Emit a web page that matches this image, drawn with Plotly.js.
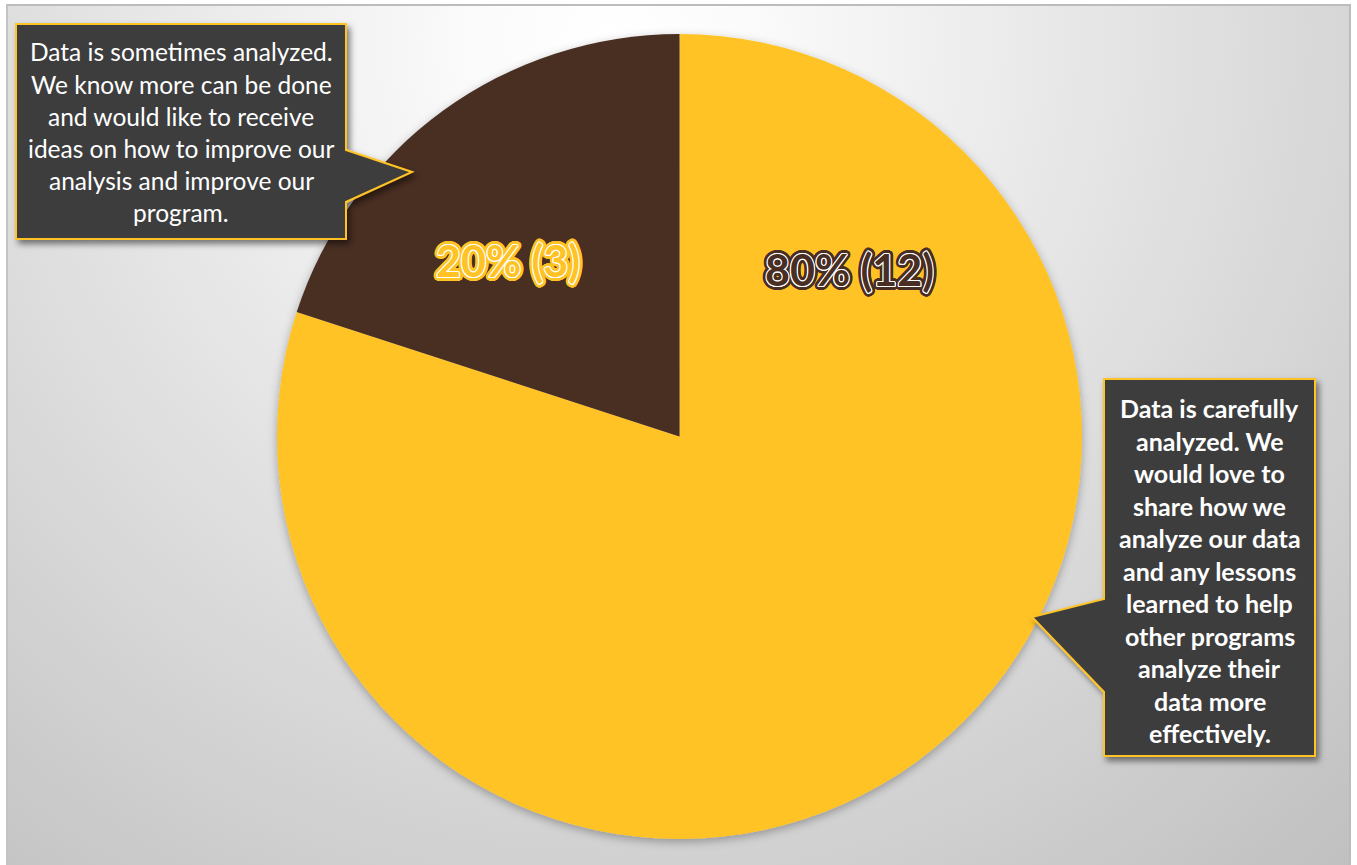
<!DOCTYPE html>
<html>
<head>
<meta charset="utf-8">
<script src="https://cdn.plot.ly/plotly-3.0.1.min.js"></script>
<style>
  html, body { margin: 0; padding: 0; background: #ffffff; }
  #frame {
    position: absolute; left: 6px; top: 4px; width: 1345px; height: 861px;
    border-top: 2px solid #bcbcbc; border-left: 2px solid #c4c4c4; border-right: 2px solid #bcbcbc;
    box-sizing: border-box;
    background: radial-gradient(circle farthest-corner at 45% 4%, #ffffff 0%, #fbfbfb 12%, #c0c0c0 100%);
  }
  #chart { position: absolute; left: 0; top: 0; width: 1357px; height: 865px; }
</style>
</head>
<body>
<div id="frame"></div>
<div id="chart"></div>
<script>
// ---- data ----
const categories = [
  'Data is carefully analyzed. We would love to share how we analyze our data and any lessons learned to help other programs analyze their data more effectively.',
  'Data is sometimes analyzed. We know more can be done and would like to receive ideas on how to improve our analysis and improve our program.'
];
const values = [12, 3];
const sliceColors = ['#FFC326', '#492E24'];
const callout1Lines = [
  'Data is sometimes analyzed.',
  'We know more can be done',
  'and would like to receive',
  'ideas on how to improve our',
  'analysis and improve our',
  'program.'
];
const callout2Lines = [
  'Data is carefully',
  'analyzed. We',
  'would love to',
  'share how we',
  'analyze our data',
  'and any lessons',
  'learned to help',
  'other programs',
  'analyze their',
  'data more',
  'effectively.'
];

// ---- layout helpers ----
const W = 1357, H = 865;
const px = x => x / W;
const py = y => 1 - y / H;
const pathOf = pts => 'M ' + pts.map(p => px(p[0]).toFixed(5) + ',' + py(p[1]).toFixed(5)).join(' L ') + ' Z';

function ring(color, r, steps) {
  const out = [];
  for (let i = 0; i < steps; i++) {
    const a = 2 * Math.PI * i / steps;
    out.push((r * Math.cos(a)).toFixed(2) + 'px ' + (r * Math.sin(a)).toFixed(2) + 'px 0 ' + color);
  }
  return out;
}
function outlineShadow(inner, outer) {
  return ring(inner, 1, 12).concat(ring(outer, 2, 16), ring(outer, 3, 20), ring(outer, 3.8, 24)).join(', ');
}

const total = values.reduce((a, b) => a + b, 0);
const pctText = values.map(v => Math.round(v / total * 100) + '% (' + v + ')');

const trace = {
  type: 'pie',
  labels: categories,
  values: values,
  sort: false,
  direction: 'clockwise',
  rotation: 0,
  marker: { colors: sliceColors, line: { width: 0 } },
  textinfo: 'none',
  hoverinfo: 'label+value+percent',
  showlegend: false,
  domain: { x: [px(277), px(1082)], y: [py(839), py(34)] }
};

const yellow = '#FFC326', brown = '#492E24';

const annotations = [];
// percent labels
annotations.push({
  xref: 'paper', yref: 'paper', x: px(508), y: py(260), xanchor: 'center', yanchor: 'middle',
  text: '<b>' + pctText[1] + '</b>', showarrow: false,
  font: { family: 'Lato, sans-serif', size: 43, color: yellow, shadow: outlineShadow('#ffffff', yellow) }
});
annotations.push({
  xref: 'paper', yref: 'paper', x: px(849), y: py(270), xanchor: 'center', yanchor: 'middle',
  text: '<b>' + pctText[0] + '</b>', showarrow: false,
  font: { family: 'Lato, sans-serif', size: 43, color: brown, shadow: outlineShadow('#ffffff', brown) }
});
// callout text lines
const c1y0 = 52, c1dy = 32.2;
callout1Lines.forEach((t, i) => annotations.push({
  xref: 'paper', yref: 'paper', x: px(181), y: py(c1y0 + i * c1dy), xanchor: 'center', yanchor: 'middle',
  text: t, showarrow: false,
  font: { family: 'Lato, sans-serif', size: 24.5, color: '#ffffff' }
}));
const c2y0 = 408, c2dy = 32.5;
callout2Lines.forEach((t, i) => annotations.push({
  xref: 'paper', yref: 'paper', x: px(1209.5), y: py(c2y0 + i * c2dy), xanchor: 'center', yanchor: 'middle',
  text: '<b>' + t + '</b>', showarrow: false,
  font: { family: 'Lato, sans-serif', size: 25, color: '#ffffff' }
}));

const boxFill = '#3E3E3E';
const shapes = [
  {
    type: 'path', xref: 'paper', yref: 'paper', layer: 'above',
    path: pathOf([[16, 24], [346, 24], [346, 150], [412, 172], [346, 202], [346, 239], [16, 239]]),
    fillcolor: boxFill, line: { color: yellow, width: 2 }
  },
  {
    type: 'path', xref: 'paper', yref: 'paper', layer: 'above',
    path: pathOf([[1104, 379], [1315, 379], [1315, 756], [1104, 756], [1104, 692], [1032, 617], [1104, 599]]),
    fillcolor: boxFill, line: { color: yellow, width: 2 }
  }
];

const layout = {
  width: W, height: H,
  margin: { l: 0, r: 0, t: 0, b: 0, pad: 0 },
  paper_bgcolor: 'rgba(0,0,0,0)',
  plot_bgcolor: 'rgba(0,0,0,0)',
  showlegend: false,
  shapes: shapes,
  annotations: annotations
};

const gd = document.getElementById('chart');
Plotly.newPlot(gd, [trace], layout, { displayModeBar: false, staticPlot: false }).then(() => {
  const svg = gd.querySelector('svg.main-svg');
  const NS = 'http://www.w3.org/2000/svg';
  let defs = svg.querySelector('defs');
  if (!defs) { defs = document.createElementNS(NS, 'defs'); svg.insertBefore(defs, svg.firstChild); }
  function addShadow(id, dx, dy, sd, op) {
    const f = document.createElementNS(NS, 'filter');
    f.setAttribute('id', id);
    f.setAttribute('x', '-20%'); f.setAttribute('y', '-20%');
    f.setAttribute('width', '140%'); f.setAttribute('height', '140%');
    const d = document.createElementNS(NS, 'feDropShadow');
    d.setAttribute('dx', dx); d.setAttribute('dy', dy);
    d.setAttribute('stdDeviation', sd);
    d.setAttribute('flood-color', '#000'); d.setAttribute('flood-opacity', op);
    f.appendChild(d); defs.appendChild(f);
  }
  addShadow('pieShadow', 0, 3, 5, 0.3);
  addShadow('boxShadow', 3, 4, 3, 0.5);
  gd.querySelectorAll('.pielayer').forEach(el => el.setAttribute('filter', 'url(#pieShadow)'));
  gd.querySelectorAll('.shapelayer path').forEach(el => el.setAttribute('filter', 'url(#boxShadow)'));
});
</script>
</body>
</html>
